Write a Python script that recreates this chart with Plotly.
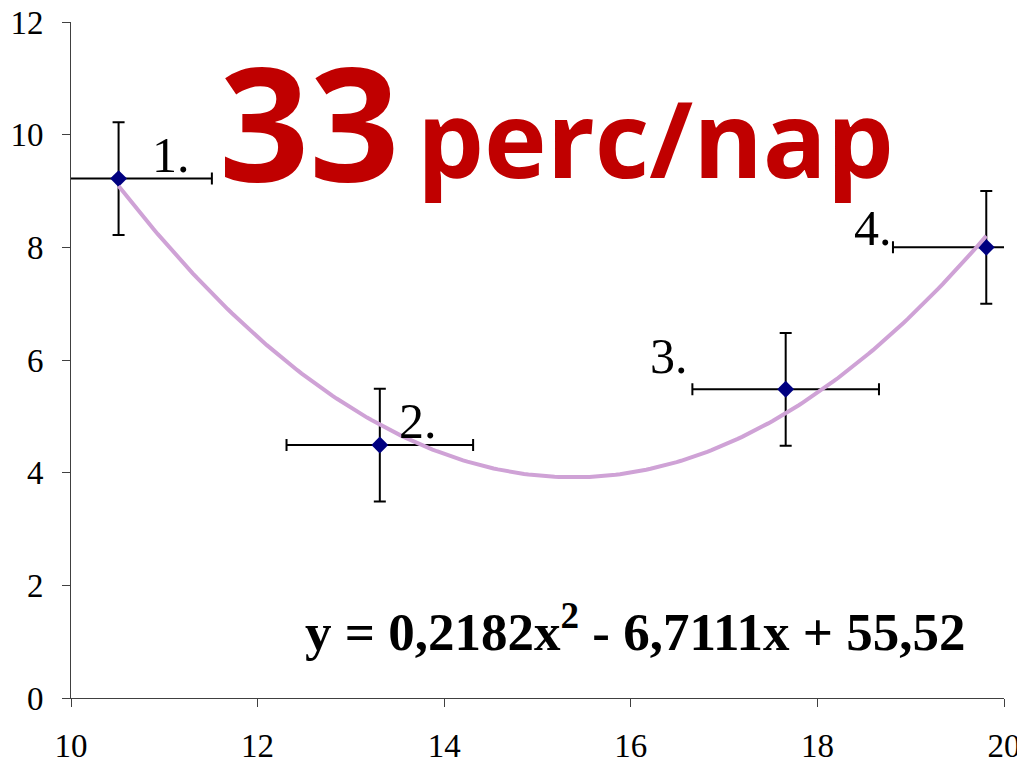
import numpy as np
import plotly.graph_objects as go

# measured points (x = day, y = value), error bars +/-1 in both directions
x_vals = [10.51, 13.31, 17.66, 19.81]
y_vals = [9.22, 4.49, 5.48, 8.00]
x_err = [1, 1, 1, 1]
y_err = [1, 1, 1, 1]
point_labels = ["1.", "2.", "3.", "4."]

# polynomial trendline coefficients as printed on the chart
trend_coef = [0.2182, -6.7111, 55.52]
trend_text = "y = 0,2182x<sup>2</sup> - 6,7111x + 55,52"

x_ticks = [10, 12, 14, 16, 18, 20]
y_ticks = [0, 2, 4, 6, 8, 10, 12]

NAVY = "#000080"
TREND = "#CFA2D6"
RED = "#C00000"
AXIS = "#404040"
SERIF = "Liberation Serif, Times New Roman, serif"
SANS = "Open Sans, Noto Sans, sans-serif"

fig = go.Figure()

fig.add_trace(go.Scatter(
    x=x_vals, y=y_vals, mode="markers",
    marker=dict(symbol="diamond", size=13, color=NAVY),
    error_x=dict(type="data", array=x_err, color="black", thickness=2, width=6),
    error_y=dict(type="data", array=y_err, color="black", thickness=2, width=6),
    showlegend=False))

tx = np.linspace(min(x_vals), max(x_vals), 200)
fig.add_trace(go.Scatter(
    x=tx, y=np.polyval(trend_coef, tx), mode="lines",
    line=dict(color=TREND, width=4), showlegend=False, hoverinfo="skip"))

# point number labels (offsets in px from each marker)
label_shift = [(31, -6), (17, -6), (-138, 3), (-134, -11)]
for xv, yv, lab, (dx, dy) in zip(x_vals, y_vals, point_labels, label_shift):
    fig.add_annotation(x=xv, y=yv, text=lab, showarrow=False,
                       xanchor="left", yanchor="bottom", xshift=dx, yshift=dy,
                       font=dict(family=SERIF, size=50, color="black"))

fig.add_annotation(x=0.157, y=0.694, xref="paper", yref="paper", text="<b>33</b>",
                   showarrow=False, xanchor="left", yanchor="bottom",
                   font=dict(family=SANS, size=158, color=RED))
fig.add_annotation(x=0.369, y=0.720, xref="paper", yref="paper", text="<b>perc/nap</b>",
                   showarrow=False, xanchor="left", yanchor="bottom",
                   font=dict(family=SANS, size=106, color=RED))
fig.add_annotation(x=0.249, y=0.052, xref="paper", yref="paper", text="<b>" + trend_text + "</b>",
                   showarrow=False, xanchor="left", yanchor="bottom",
                   font=dict(family=SERIF, size=53, color="black"))

fig.update_layout(
    width=1025, height=760,
    paper_bgcolor="white", plot_bgcolor="white",
    margin=dict(l=63, r=29, t=14, b=70),
    font=dict(family=SERIF, size=33, color="black"),
)
fig.update_xaxes(range=[10, 20], tickvals=x_ticks, ticks="outside", ticklen=8,
                 tickcolor=AXIS, showline=True, linecolor=AXIS, linewidth=1,
                 showgrid=False, zeroline=False, automargin=False,
                 tickfont=dict(family=SERIF, size=33), ticklabelstandoff=10,
                 ticklabeloverflow="allow")
fig.update_yaxes(range=[0, 12], tickvals=y_ticks, ticks="outside", ticklen=8,
                 tickcolor=AXIS, showline=True, linecolor=AXIS, linewidth=1,
                 showgrid=False, zeroline=False, automargin=False,
                 tickfont=dict(family=SERIF, size=33), ticklabelstandoff=12,
                 ticklabeloverflow="allow")

fig.write_html("out.html")
